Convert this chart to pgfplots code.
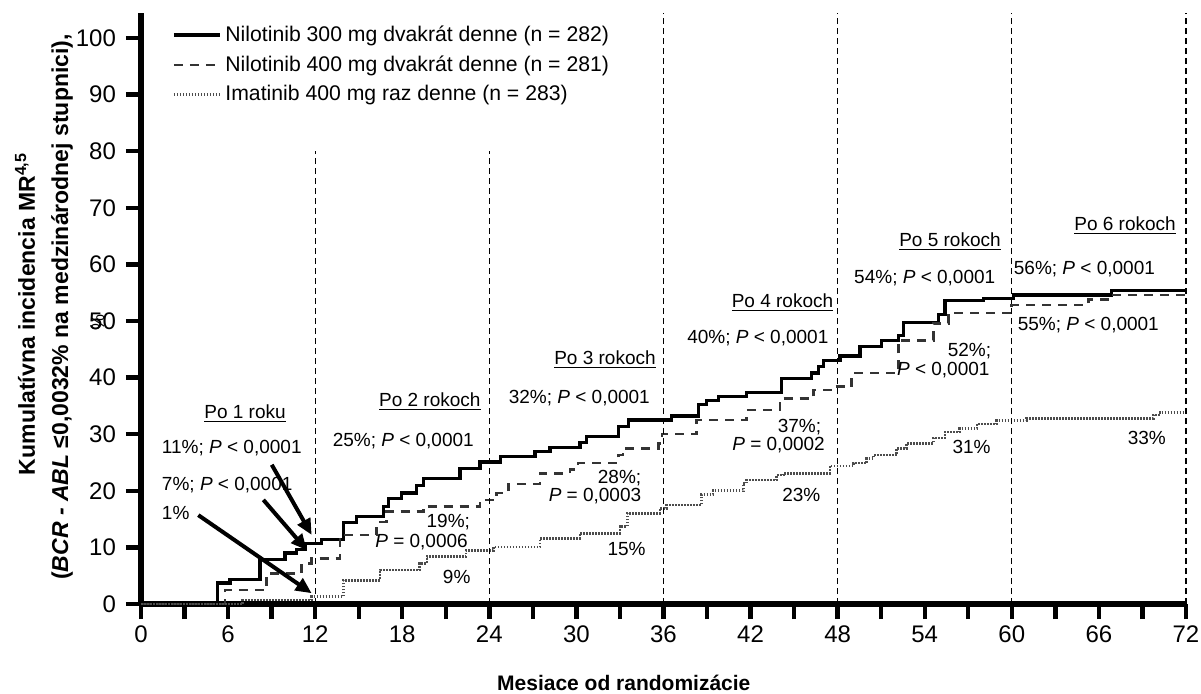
\documentclass[border=0pt]{standalone}
\usepackage{fontspec}
\setmainfont{Liberation Sans}
\usepackage{pgfplots}
\usepackage{pgfplotstable}
\pgfplotsset{compat=1.18}
\usetikzlibrary{arrows.meta}

\pgfplotstableread{
m v
0 0
5.26 3.7
6.13 4.4
8.2 7.8
9.92 9.0
10.73 9.6
11.3 10.7
12.45 11.4
13.94 14.4
14.86 15.4
16.7 17.2
17.04 18.7
17.96 19.6
19.0 21.0
19.45 22.2
21.98 24.0
23.36 25.1
24.78 26.0
27.15 26.9
28.18 27.7
30.25 28.6
30.71 29.6
32.89 31.3
33.58 32.5
36.56 33.2
38.40 35.2
38.97 36.0
39.78 36.7
41.73 37.3
44.14 39.9
46.21 40.8
46.67 41.9
47.01 43.0
48.16 43.8
49.54 45.5
51.03 46.6
52.18 47.5
52.52 49.7
54.93 51.1
55.39 53.6
58.03 54.0
60.10 54.6
66.88 55.4
72 55.4
}\nilA

\pgfplotstableread{
m v
0 0
5.79 2.5
8.66 5.4
11.07 7.2
11.76 8.0
13.71 12.2
16.23 14.5
16.9 16.3
19.45 17.2
23.36 18.4
24.5 19.6
25.3 21.2
27.5 23.1
29.56 23.8
30.1 24.9
32.89 26.3
33.2 27.5
35.64 28.4
35.9 30.0
38.29 32.5
41.73 34.3
44.03 36.3
46.32 37.8
47.7 38.4
48.96 40.8
52.18 46.6
54.59 49.6
55.62 51.4
59.99 52.8
65.27 53.8
66.88 54.6
72 54.6
}\nilB

\pgfplotstableread{
m v
0 0
7.0 0.7
11.76 1.3
13.94 4.2
16.47 6.0
19.2 7.2
19.7 8.4
22.4 9.5
24.3 10.1
27.5 11.6
30.25 12.5
33.0 13.7
33.5 16.0
35.76 16.9
36.2 17.5
38.6 19.3
39.4 20.0
41.5 21.3
41.7 21.9
43.8 22.8
44.25 23.1
47.47 24.4
49.1 24.9
50.0 25.7
50.46 26.3
52.07 27.5
52.76 28.4
54.6 29.3
55.4 30.4
56.4 31.0
57.6 31.8
58.96 32.4
61.0 32.8
69.75 33.4
70.2 33.8
72 33.8
}\ima

\newcommand{\ann}{\fontsize{9.5}{11}\selectfont}

\begin{document}
\begin{tikzpicture}
\useasboundingbox (-70.5pt,-44.5pt) rectangle (530pt,302pt);
\begin{axis}[
  scale only axis, width=522.5pt, height=295.5pt,
  xmin=0, xmax=72, ymin=0, ymax=104.4,
  axis lines=left,
  axis line style={-, line width=2.6pt, black},
  xtick={0,6,...,72}, minor xtick={3,9,...,69},
  ytick={0,10,...,100},
  tick align=outside,
  major tick length=7.5pt, minor tick length=7.5pt,
  major tick style={line width=2.2pt, black},
  minor tick style={line width=2.2pt, black},
  tick label style={font=\fontsize{12}{14}\selectfont},
  yticklabel style={xshift=-1.5pt},
  /pgf/number format/assume math mode=true,
  clip=false,
  xlabel={\bfseries Mesiace od randomizácie},
  xlabel style={at={(axis description cs:0.462,-0.134)}, anchor=center, font=\fontsize{10.5}{12}\selectfont},
  legend style={at={(axis description cs:0.0295,0.986)}, anchor=north west, draw=none, fill=none,
    font=\fontsize{10.6}{12}\selectfont, row sep=1.6pt, inner sep=0pt,
    /tikz/every even column/.append style={column sep=7pt}},
  legend cell align=left,
  legend image code/.code={\draw[#1] (0pt,0pt) -- (23pt,0pt);},
]
\addplot[const plot, black, line width=1.6pt] table[x=m,y=v] {\nilA};
\addlegendentry{Nilotinib 300 mg dvakrát denne (n = 282)}
\addplot[const plot, black!80, line width=1.3pt, dash pattern=on 4.5pt off 3.5pt] table[x=m,y=v] {\nilB};
\addlegendentry{Nilotinib 400 mg dvakrát denne (n = 281)}
\addplot[const plot, black!70, line width=1.3pt, dash pattern=on 0.8pt off 0.7pt] table[x=m,y=v] {\ima};
\addlegendentry{Imatinib 400 mg raz denne (n = 283)}

\addplot[forget plot, black, line width=0.6pt, dash pattern=on 3pt off 2pt] coordinates {(12,0) (12,80)};
\addplot[forget plot, black, line width=0.6pt, dash pattern=on 3pt off 2pt] coordinates {(24,0) (24,80)};
\addplot[forget plot, black, line width=0.6pt, dash pattern=on 3pt off 2pt] coordinates {(36,0) (36,104.4)};
\addplot[forget plot, black, line width=0.6pt, dash pattern=on 3pt off 2pt] coordinates {(48,0) (48,104.4)};
\addplot[forget plot, black, line width=0.6pt, dash pattern=on 3pt off 2pt] coordinates {(60,0) (60,104.4)};
\addplot[forget plot, black, line width=0.6pt, dash pattern=on 3pt off 2pt] coordinates {(72,0) (72,104.4)};

% y label
\node[rotate=90, font=\fontsize{11.5}{13}\selectfont\bfseries] at (axis description cs:-0.111,0.491) {Kumulatívna incidencia MR\textsuperscript{4,5}};
\node[rotate=90, font=\fontsize{11.5}{13}\selectfont\bfseries] at (axis description cs:-0.0756,0.5025) {(\textit{BCR - ABL} ≤0,0032\% na medzinárodnej stupnici),};
\node[rotate=90, font=\fontsize{9}{10}\selectfont] at (axis description cs:-0.0411,0.477) {\%};

% annotations
\node[font=\ann] at (axis cs:7.17,33.7) {\underline{Po 1 roku}};
\node[font=\ann, anchor=west] at (axis cs:0.96,27.5) {11\%; \textit{P} < 0,0001};
\node[font=\ann, anchor=west] at (axis cs:0.96,21.0) {7\%; \textit{P} < 0,0001};
\node[font=\ann, anchor=west] at (axis cs:0.96,16.0) {1\%};
\draw[-{Triangle[length=8pt,width=7pt]}, line width=2pt] (axis cs:9.01,24.6) -- (axis cs:11.76,12.2);
\draw[-{Triangle[length=8pt,width=7pt]}, line width=2pt] (axis cs:8.43,18.4) -- (axis cs:11.43,9.5);
\draw[-{Triangle[length=8pt,width=7pt]}, line width=2pt] (axis cs:3.95,15.7) -- (axis cs:11.76,1.9);

\node[font=\ann] at (axis cs:19.9,35.7) {\underline{Po 2 rokoch}};
\node[font=\ann] at (axis cs:18.07,28.7) {25\%; \textit{P} < 0,0001};
\node[font=\ann, anchor=east] at (axis cs:23.15,14.5) {19\%;};
\node[font=\ann, anchor=east] at (axis cs:23.0,11.0) {\textit{P} = 0,0006};
\node[font=\ann] at (axis cs:21.75,4.8) {9\%};

\node[font=\ann] at (axis cs:31.97,43.1) {\underline{Po 3 rokoch}};
\node[font=\ann] at (axis cs:30.2,36.3) {32\%; \textit{P} < 0,0001};
\node[font=\ann, anchor=east] at (axis cs:34.95,22.2) {28\%;};
\node[font=\ann, anchor=east] at (axis cs:34.95,19.0) {\textit{P} = 0,0003};
\node[font=\ann] at (axis cs:33.46,9.8) {15\%};

\node[font=\ann] at (axis cs:44.2,53.2) {\underline{Po 4 rokoch}};
\node[font=\ann] at (axis cs:42.5,46.9) {40\%; \textit{P} < 0,0001};
\node[font=\ann, anchor=east] at (axis cs:47.35,31.3) {37\%;};
\node[font=\ann, anchor=east] at (axis cs:47.6,28.1) {\textit{P} = 0,0002};
\node[font=\ann] at (axis cs:45.5,19.3) {23\%};

\node[font=\ann] at (axis cs:55.74,64.0) {\underline{Po 5 rokoch}};
\node[font=\ann] at (axis cs:54.0,57.5) {54\%; \textit{P} < 0,0001};
\node[font=\ann, anchor=east] at (axis cs:59.06,44.6) {52\%;};
\node[font=\ann, anchor=east] at (axis cs:58.95,41.3) {\textit{P} < 0,0001};
\node[font=\ann] at (axis cs:57.23,27.8) {31\%};

\node[font=\ann] at (axis cs:67.8,66.8) {\underline{Po 6 rokoch}};
\node[font=\ann] at (axis cs:65.0,59.1) {56\%; \textit{P} < 0,0001};
\node[font=\ann] at (axis cs:65.27,49.3) {55\%; \textit{P} < 0,0001};
\node[font=\ann] at (axis cs:69.3,29.3) {33\%};
\end{axis}
\end{tikzpicture}
\end{document}
